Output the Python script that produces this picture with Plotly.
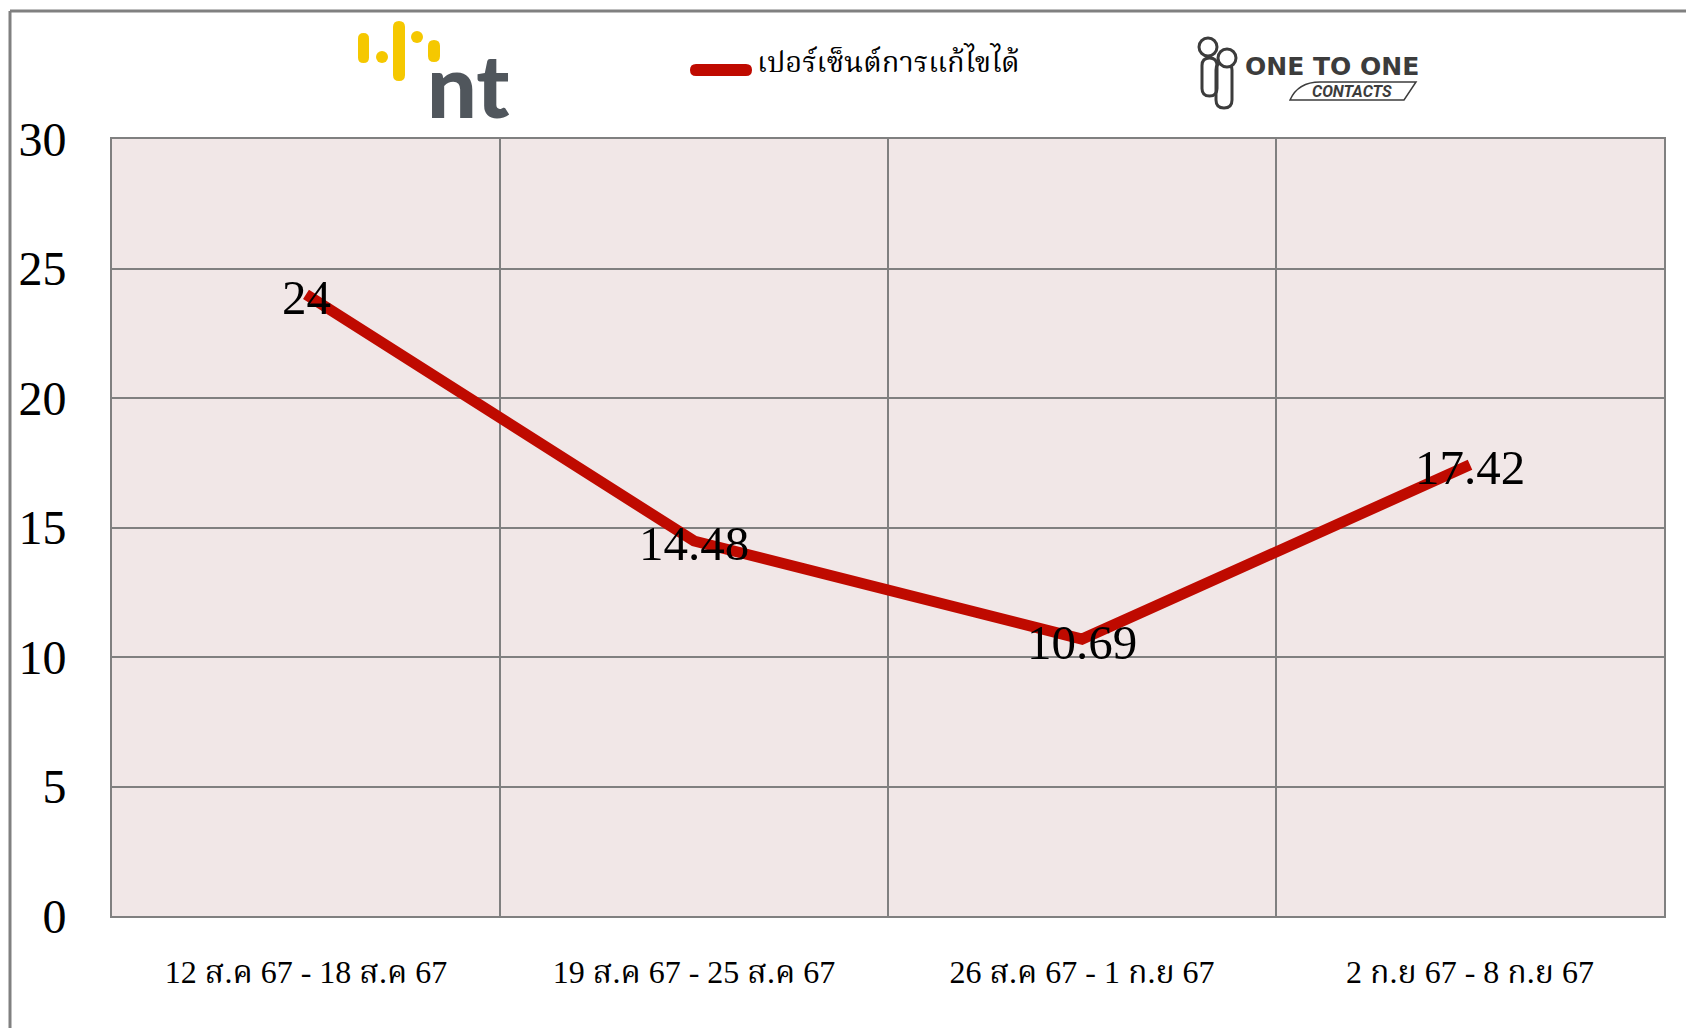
import plotly.graph_objects as go

# ---- data ----
categories = ["12 ส.ค 67 - 18 ส.ค 67", "19 ส.ค 67 - 25 ส.ค 67",
              "26 ส.ค 67 - 1 ก.ย 67", "2 ก.ย 67 - 8 ก.ย 67"]
values = [24, 14.48, 10.69, 17.42]
series_name = "เปอร์เซ็นต์การแก้ไขได้"
y_ticks = [0, 5, 10, 15, 20, 25, 30]

W, H = 1686, 1028
RED = "#BF0A00"
GRID = "#808080"
SERIF = "Liberation Serif, Noto Serif Thai, Noto Sans Thai, DejaVu Serif, serif"


def px(x):
    return x / W


def py(y):
    return 1 - y / H


def pill(x0, y0, x1, y1):
    r = (x1 - x0) / 2
    xm = (x0 + x1) / 2
    return (f"M {px(x0)},{py(y0 + r)} Q {px(x0)},{py(y0)} {px(xm)},{py(y0)} "
            f"Q {px(x1)},{py(y0)} {px(x1)},{py(y0 + r)} L {px(x1)},{py(y1 - r)} "
            f"Q {px(x1)},{py(y1)} {px(xm)},{py(y1)} Q {px(x0)},{py(y1)} {px(x0)},{py(y1 - r)} Z")


def hpill(x0, y0, x1, y1):
    r = (y1 - y0) / 2
    ym = (y0 + y1) / 2
    return (f"M {px(x0 + r)},{py(y0)} L {px(x1 - r)},{py(y0)} "
            f"Q {px(x1)},{py(y0)} {px(x1)},{py(ym)} Q {px(x1)},{py(y1)} {px(x1 - r)},{py(y1)} "
            f"L {px(x0 + r)},{py(y1)} Q {px(x0)},{py(y1)} {px(x0)},{py(ym)} "
            f"Q {px(x0)},{py(y0)} {px(x0 + r)},{py(y0)} Z")


fig = go.Figure()
fig.add_trace(go.Scatter(
    x=categories, y=values, mode="lines",
    line=dict(color=RED, width=11),
    name=series_name, showlegend=False, cliponaxis=False,
))

shapes = []
# outer frame lines (top and left)
shapes.append(dict(type="line", xref="paper", yref="paper",
                   x0=px(10), x1=px(W), y0=py(11), y1=py(11),
                   line=dict(color=GRID, width=3)))
shapes.append(dict(type="line", xref="paper", yref="paper",
                   x0=px(10), x1=px(10), y0=py(11), y1=py(H),
                   line=dict(color=GRID, width=3)))

# legend marker
shapes.append(dict(type="path", xref="paper", yref="paper",
                   path=hpill(690, 64, 752, 76), fillcolor=RED, line=dict(width=0)))

# NT logo (yellow bars)
YEL = "#F5C800"
for (x0, y0, x1, y1) in [(358, 33, 369, 63), (393, 21, 405, 81), (428, 40, 440, 62)]:
    shapes.append(dict(type="path", xref="paper", yref="paper",
                       path=pill(x0, y0, x1, y1), fillcolor=YEL, line=dict(width=0)))
for (x0, y0, x1, y1) in [(376, 51, 388, 63), (411, 31, 423, 43)]:
    shapes.append(dict(type="circle", xref="paper", yref="paper",
                       x0=px(x0), x1=px(x1), y0=py(y1), y1=py(y0),
                       fillcolor=YEL, line=dict(width=0)))

# ONE TO ONE icon
ICON = "#3C3C3C"
shapes.append(dict(type="path", xref="paper", yref="paper",
                   path=pill(1202, 58, 1217, 96), line=dict(color=ICON, width=3)))
shapes.append(dict(type="path", xref="paper", yref="paper",
                   path=pill(1216, 62, 1232, 108), line=dict(color=ICON, width=3)))
shapes.append(dict(type="circle", xref="paper", yref="paper",
                   x0=px(1199), x1=px(1217), y0=py(56), y1=py(38),
                   fillcolor="white", line=dict(color=ICON, width=3)))
shapes.append(dict(type="circle", xref="paper", yref="paper",
                   x0=px(1218), x1=px(1236), y0=py(67), y1=py(49),
                   fillcolor="white", line=dict(color=ICON, width=3)))
# CONTACTS outline
shapes.append(dict(type="path", xref="paper", yref="paper",
                   path=(f"M {px(1290)},{py(100)} Q {px(1298)},{py(82)} {px(1320)},{py(82)} "
                         f"L {px(1416)},{py(82)} L {px(1404)},{py(100)} Z"),
                   line=dict(color=ICON, width=1.5)))

annotations = [
    dict(x=px(755), y=py(60), xref="paper", yref="paper", text=series_name,
         showarrow=False, xanchor="left", yanchor="middle",
         font=dict(family=SERIF, size=29, color="#000000")),
    dict(x=px(468), y=py(84), xref="paper", yref="paper", text="nt",
         showarrow=False, xanchor="center", yanchor="middle",
         font=dict(family="Lato", size=88, color="#50565C", weight=900)),
    dict(x=px(1243), y=py(66), xref="paper", yref="paper", text="<b>ONE TO ONE</b>",
         showarrow=False, xanchor="left", yanchor="middle",
         font=dict(family="DejaVu Sans", size=25, color=ICON)),
    dict(x=px(1352), y=py(91), xref="paper", yref="paper", text="<b><i>CONTACTS</i></b>",
         showarrow=False, xanchor="center", yanchor="middle",
         font=dict(family="Roboto", size=16, color=ICON)),
]

# data labels, placed through the data axes
for c, v in zip(categories, values):
    annotations.append(dict(x=c, y=v, xref="x", yref="y", text=f"{v:g}",
                            showarrow=False, xanchor="center", yanchor="middle",
                            yshift=-3,
                            font=dict(family=SERIF, size=49, color="#000000")))

fig.update_layout(
    width=W, height=H, margin=dict(l=0, r=0, t=0, b=0, autoexpand=False),
    paper_bgcolor="white", plot_bgcolor="#F1E7E7",
    shapes=shapes, annotations=annotations, showlegend=False,
    xaxis=dict(domain=[px(112), px(1664)], type="category", range=[-0.5, 3.5],
               automargin=False,
               tickson="boundaries", showgrid=True, gridcolor=GRID, gridwidth=2,
               showline=True, mirror=True, linecolor=GRID, linewidth=2,
               ticks="", ticklabelstandoff=27,
               tickfont=dict(family=SERIF, size=32, color="#000000")),
    yaxis=dict(domain=[py(916), py(139)], range=[0, 30], tickvals=y_ticks,
               automargin=False,
               showgrid=True, gridcolor=GRID, gridwidth=2, zeroline=False,
               showline=True, mirror=True, linecolor=GRID, linewidth=2,
               ticks="", ticklabelstandoff=34,
               tickfont=dict(family=SERIF, size=48, color="#000000")),
)

fig.write_html("out.html", config={"displayModeBar": False},
               post_script="document.body.style.margin='0px';document.body.style.overflow='hidden';")
